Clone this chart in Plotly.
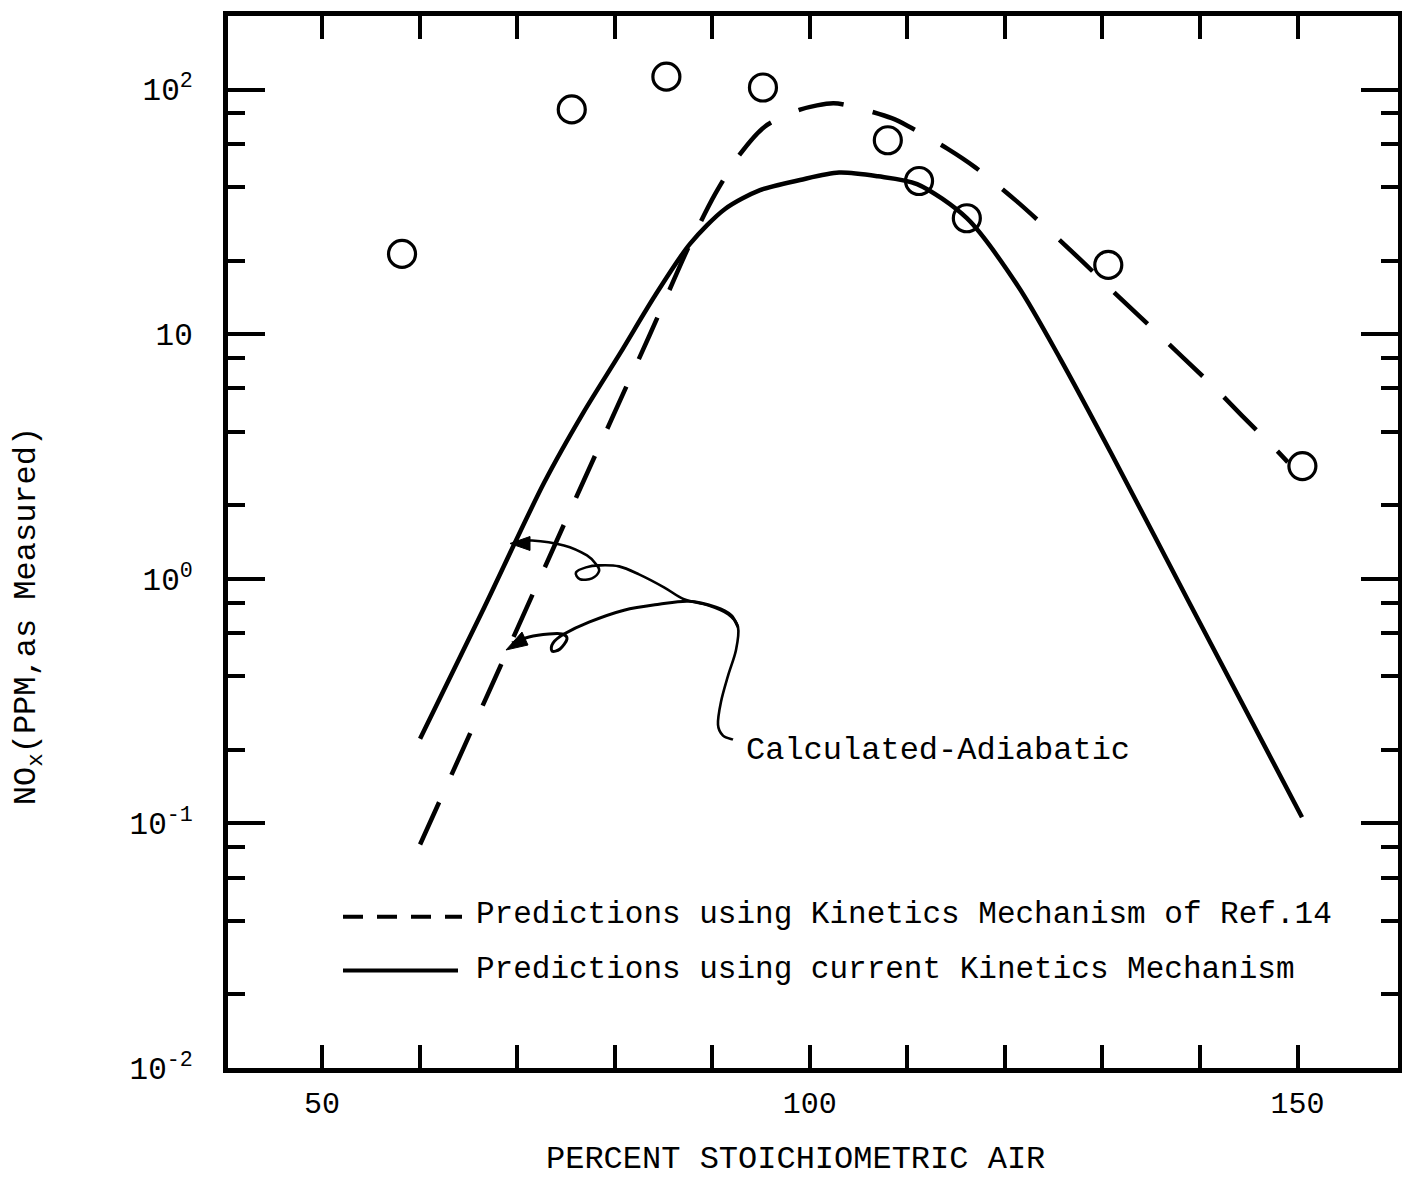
import plotly.graph_objects as go

# ---------------- data ----------------
meas_x = [58.2, 75.6, 85.3, 95.2, 108.0, 111.2, 116.1, 130.6, 150.5]
meas_y = [21.3, 83.0, 113.0, 102.0, 62.1, 42.3, 29.8, 19.2, 2.89]

ref14_x = [60.05, 68.25, 76.14, 83.62, 87.72, 90.29, 92.85, 95.41, 99.0, 102.4,
           104.2, 108.4, 110.1, 114.1, 117.0, 121.2, 127.8, 131.3, 135.4,
           141.3, 144.3, 147.9, 149.0]
ref14_y = [0.082, 0.436, 2.19, 10.0, 23.4, 37.4, 54.5, 70.7, 82.8, 88.0,
           85.7, 76.4, 70.9, 57.4, 48.0, 35.0, 20.1, 14.7, 10.3,
           6.15, 4.65, 3.34, 3.0]

curr_x = [60.05, 66.4, 72.76, 76.76, 80.55, 84.14, 87.72, 91.31, 94.90, 99.0,
          103.0, 107.0, 111.0, 116.1, 121.4, 125.65, 130.88, 138.88, 150.46]
curr_y = [0.222, 0.731, 2.47, 4.76, 8.35, 14.4, 23.4, 32.5, 38.8, 42.7,
          45.8, 44.2, 41.1, 29.8, 15.6, 7.97, 3.27, 0.802, 0.106]

x_tickvals = [50, 100, 150]
x_ticktext = ["50", "100", "150"]
x_minor = [60, 70, 80, 90, 110, 120, 130, 140]
y_tickvals = [0.01, 0.1, 1, 10, 100]
y_ticktext = ["10<sup>-2</sup>", "10<sup>-1</sup>", "10<sup>0</sup>", "10", "10<sup>2</sup>"]
y_minor = [m * d for d in (0.01, 0.1, 1, 10) for m in (2, 4, 6, 8)]

legend_ref14 = "Predictions using Kinetics Mechanism of Ref.14"
legend_curr = "Predictions using current Kinetics Mechanism"
note_text = "Calculated-Adiabatic"
x_title = "PERCENT STOICHIOMETRIC AIR"
y_title = "NO<sub>x</sub>(PPM,as Measured)"

# ---------------- layout geometry (page pixels) ----------------
PAGE_W, PAGE_H = 1410, 1177
OFF = 8                      # default body margin of the html page
W, H = PAGE_W - OFF, PAGE_H - OFF
L, R, T, B = 228, 1398, 11, 1068
FONT = "Liberation Mono"


def px(x):
    return (x - L) / (R - L)


def py(y):
    return (B - y) / (B - T)


def smooth_path(pts):
    """Catmull-Rom through pixel points -> SVG cubic path in paper coords."""
    P = [(px(a), py(b)) for a, b in pts]
    d = "M %.5f,%.5f" % P[0]
    for i in range(len(P) - 1):
        p0 = P[i - 1] if i > 0 else P[i]
        p1 = P[i]
        p2 = P[i + 1]
        p3 = P[i + 2] if i + 2 < len(P) else P[i + 1]
        c1 = (p1[0] + (p2[0] - p0[0]) / 6, p1[1] + (p2[1] - p0[1]) / 6)
        c2 = (p2[0] - (p3[0] - p1[0]) / 6, p2[1] - (p3[1] - p1[1]) / 6)
        d += " C %.5f,%.5f %.5f,%.5f %.5f,%.5f" % (c1[0], c1[1], c2[0], c2[1], p2[0], p2[1])
    return d


def tri_path(pts):
    P = [(px(a), py(b)) for a, b in pts]
    return "M %.5f,%.5f L %.5f,%.5f L %.5f,%.5f Z" % (P[0] + P[1] + P[2])


fig = go.Figure()

fig.add_trace(go.Scatter(
    x=ref14_x, y=ref14_y, mode="lines", name=legend_ref14,
    line=dict(color="black", width=4.5, dash="46px,30px", shape="spline", smoothing=0.8),
))
fig.add_trace(go.Scatter(
    x=curr_x, y=curr_y, mode="lines", name=legend_curr,
    line=dict(color="black", width=4.5, shape="spline", smoothing=0.8),
))
fig.add_trace(go.Scatter(
    x=meas_x, y=meas_y, mode="markers", name="Measured",
    marker=dict(symbol="circle-open", size=27, color="black", line=dict(width=3.2, color="black")),
))

# ---------------- decorations ----------------
upper_leader = [(513, 540), (532, 538), (564, 543), (587, 553), (597, 563), (599, 569),
                (592, 576), (580, 577), (576, 570), (586, 565), (599, 563), (619, 564),
                (639, 572), (664, 585), (684, 597), (708, 603), (728, 612), (738, 625),
                (736, 648), (728, 674), (721, 700), (718, 723), (723, 734), (733, 738)]
lower_leader = [(512, 641), (529, 635), (549, 632), (562, 632), (567, 637), (560, 647),
                (552, 649), (553, 641), (564, 632), (589, 620), (624, 608), (659, 602),
                (689, 599), (716, 605), (731, 613), (738, 625)]

shapes = [
    dict(type="path", xref="paper", yref="paper", path=smooth_path(upper_leader),
         line=dict(color="black", width=2.6)),
    dict(type="path", xref="paper", yref="paper", path=smooth_path(lower_leader),
         line=dict(color="black", width=3.0)),
    dict(type="path", xref="paper", yref="paper",
         path=tri_path([(510, 541), (530, 534), (530, 548)]),
         fillcolor="black", line=dict(color="black", width=1)),
    dict(type="path", xref="paper", yref="paper",
         path=tri_path([(506, 648), (528, 643), (522, 630)]),
         fillcolor="black", line=dict(color="black", width=1)),
    # legend samples
    dict(type="line", xref="paper", yref="paper", x0=px(343), x1=px(462), y0=py(916), y1=py(916),
         line=dict(color="black", width=4, dash="20px,14px")),
    dict(type="line", xref="paper", yref="paper", x0=px(343), x1=px(458), y0=py(970), y1=py(970),
         line=dict(color="black", width=4)),
]

annotations = [
    dict(text=legend_ref14, xref="paper", yref="paper", x=px(474), y=py(914),
         xanchor="left", yanchor="middle", showarrow=False, font=dict(family=FONT, size=31)),
    dict(text=legend_curr, xref="paper", yref="paper", x=px(474), y=py(969),
         xanchor="left", yanchor="middle", showarrow=False, font=dict(family=FONT, size=31)),
    dict(text=note_text, xref="paper", yref="paper", x=px(744), y=py(749),
         xanchor="left", yanchor="middle", showarrow=False, font=dict(family=FONT, size=32)),
    dict(text=x_title, xref="paper", yref="paper", x=px(795), y=py(1160),
         xanchor="center", yanchor="middle", showarrow=False, font=dict(family=FONT, size=32)),
    dict(text=y_title, xref="paper", yref="paper", x=px(28), y=py(614), textangle=-90,
         xanchor="center", yanchor="middle", showarrow=False, font=dict(family=FONT, size=32)),
]

fig.update_layout(
    width=W, height=H,
    margin=dict(l=L - OFF, r=W - (R - OFF), t=T - OFF, b=H - (B - OFF)),
    paper_bgcolor="white", plot_bgcolor="white",
    showlegend=False,
    font=dict(family=FONT, size=31, color="black"),
    shapes=shapes, annotations=annotations,
    xaxis=dict(
        range=[40.36, 160.3], tickmode="array", tickvals=x_tickvals, ticktext=x_ticktext,
        ticks="inside", ticklen=23, tickwidth=4, tickcolor="black",
        minor=dict(tickmode="array", tickvals=x_minor, ticks="inside", ticklen=23,
                   tickwidth=4, tickcolor="black", showgrid=False),
        showline=True, linewidth=5, linecolor="black", mirror="ticks",
        showgrid=False, zeroline=False, tickfont=dict(family=FONT, size=30),
        ticklabelstandoff=4,
    ),
    yaxis=dict(
        type="log", range=[-2, 2.301], tickmode="array", tickvals=y_tickvals, ticktext=y_ticktext,
        ticks="inside", ticklen=37, tickwidth=4, tickcolor="black",
        minor=dict(tickmode="array", tickvals=y_minor, ticks="inside", ticklen=17,
                   tickwidth=4, tickcolor="black", showgrid=False),
        showline=True, linewidth=5, linecolor="black", mirror="ticks",
        showgrid=False, zeroline=False, tickfont=dict(family=FONT, size=31),
        ticklabelstandoff=24,
    ),
)

fig.write_html("out.html")
